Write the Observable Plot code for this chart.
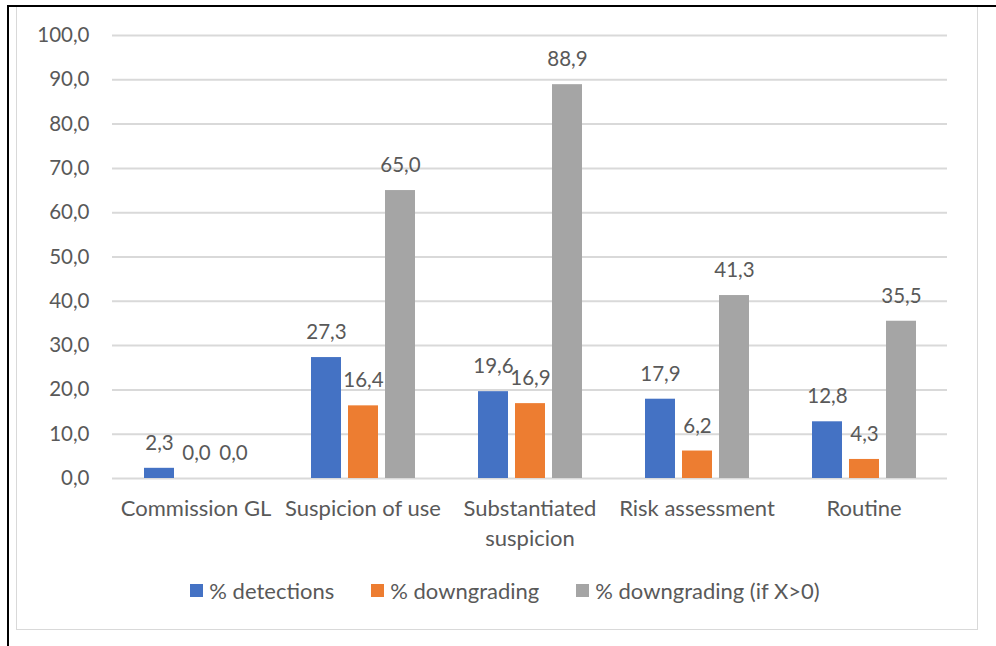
<!DOCTYPE html>
<html>
<head>
<meta charset="utf-8">
<script src="https://cdn.jsdelivr.net/npm/d3@7"></script>
<script src="https://cdn.jsdelivr.net/npm/@observablehq/plot@0.6"></script>
<style>
  html, body { margin: 0; padding: 0; background: #fff; }
  body { width: 996px; height: 646px; position: relative; overflow: hidden; font-family: Lato, "Open Sans", sans-serif; }
  #edge { position: absolute; left: 7px; top: 5px; right: 0; bottom: 0; border-left: 2px solid #000; border-top: 2px solid #000; }
  #frame { position: absolute; left: 16px; top: 7px; width: 960px; height: 622px; border: 1.5px solid #d9d9d9; border-top: none; }
  #chart { position: absolute; left: 0; top: 0; }
  #legend { position: absolute; left: 25px; width: 960px; top: 577px; display: flex; justify-content: center; gap: 37px; font-size: 22px; color: #595959; }
  #legend .item { display: flex; align-items: center; gap: 6px; }
  #legend .sw { width: 13px; height: 13px; display: inline-block; }
</style>
</head>
<body>
<div id="edge"></div>
<div id="frame"></div>
<div id="chart"></div>
<div id="legend"></div>
<script>
// Categories along the bottom axis
const categories = ["Commission GL", "Suspicion of use", "Substantiated suspicion", "Risk assessment", "Routine"];
// Series names and colours
const series = ["% detections", "% downgrading", "% downgrading (if X>0)"];
const colors = ["#4472C4", "#ED7D31", "#A5A5A5"];
// Values per series, one per category
const detections = [2.3, 27.3, 19.6, 17.9, 12.8];
const downgrading = [0.0, 16.4, 16.9, 6.2, 4.3];
const downgradingIfPositive = [0.0, 65.0, 88.9, 41.3, 35.5];
// Y axis ticks
const yTicks = [0, 10, 20, 30, 40, 50, 60, 70, 80, 90, 100];

const valuesBySeries = [detections, downgrading, downgradingIfPositive];
const rows = [];
categories.forEach((c, i) => {
  series.forEach((s, j) => rows.push({category: c, series: s, value: valuesBySeries[j][i]}));
});

const fmt = v => v.toFixed(1).replace(".", ",");
const labelLines = {"Substantiated suspicion": "Substantiated\nsuspicion"};
const textColor = "#595959";
const numberSize = 20.5;
const labelSize = 22;

const chart = Plot.plot({
  width: 996,
  height: 560,
  marginLeft: 111,
  marginRight: 48,
  marginTop: 35,
  marginBottom: 82,
  style: {fontFamily: "Lato, 'Open Sans', sans-serif", fontSize: numberSize + "px", color: textColor, background: "transparent", overflow: "visible"},
  fx: {domain: categories, padding: 0, label: null},
  x: {domain: series, paddingInner: 0.2, paddingOuter: 0.85, axis: null},
  y: {domain: [0, 100], axis: null},
  color: {domain: series, range: colors},
  marks: [
    Plot.ruleY(yTicks, {stroke: "#d9d9d9", strokeWidth: 2, facet: "exclude"}),
    Plot.axisY(yTicks, {
      tickSize: 0, tickPadding: 23, tickFormat: fmt, label: null,
      fill: textColor, fontSize: numberSize, facetAnchor: "left"
    }),
    Plot.axisFx({
      anchor: "bottom", tickSize: 0, tickPadding: 16, label: null,
      tickFormat: d => labelLines[d] ?? d, lineHeight: 1.36,
      fill: textColor, fontSize: labelSize
    }),
    Plot.barY(rows, {fx: "category", x: "series", y: "value", fill: "series"}),
    Plot.text(rows, {
      fx: "category", x: "series", y: "value", text: d => fmt(d.value),
      dy: -25, lineAnchor: "middle", fill: textColor, fontSize: numberSize
    })
  ]
});
document.getElementById("chart").appendChild(chart);

// Legend below the chart
const legend = d3.select("#legend");
series.forEach((s, i) => {
  const item = legend.append("div").attr("class", "item");
  item.append("span").attr("class", "sw").style("background", colors[i]);
  item.append("span").text(s);
});
</script>
</body>
</html>
